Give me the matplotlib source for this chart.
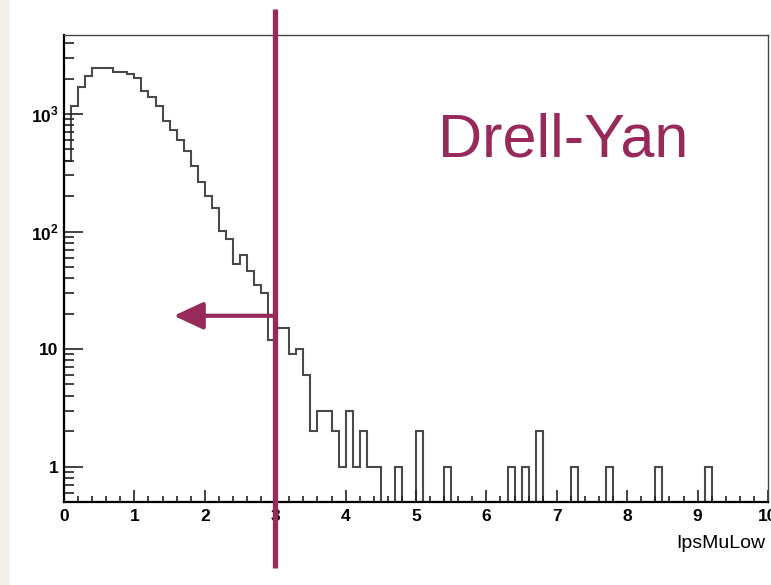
import numpy as np
import matplotlib
matplotlib.use("Agg")
import matplotlib.pyplot as plt
from matplotlib.ticker import FixedLocator, LogLocator, FuncFormatter, NullFormatter
from matplotlib.transforms import blended_transform_factory
from matplotlib.patches import Rectangle

plt.rcParams['font.family'] = ['Liberation Sans', 'DejaVu Sans']
plt.rcParams['mathtext.fontset'] = 'custom'
plt.rcParams['mathtext.rm'] = 'Liberation Sans:bold'
plt.rcParams['mathtext.bf'] = 'Liberation Sans:bold'

# histogram of IpsMuLow, 100 bins from 0 to 10 (counts)
bin_edges = np.linspace(0, 10, 101)
counts = [
    400, 1170, 1690, 2100, 2440, 2440, 2440, 2290, 2290, 2185,
    2010, 1580, 1385, 1170, 877, 731, 601, 488, 362, 266,
    200, 160, 102, 87, 53, 63, 46, 35, 30, 12,
    15, 15, 9, 10, 6, 2, 3, 3, 2, 1,
    3, 1, 2, 1, 1, 0, 0, 1, 0, 0,
    2, 0, 0, 0, 1, 0, 0, 0, 0, 0,
    0, 0, 0, 1, 0, 1, 0, 2, 0, 0,
    0, 0, 1, 0, 0, 0, 0, 1, 0, 0,
    0, 0, 0, 0, 1, 0, 0, 0, 0, 0,
    0, 1, 0, 0, 0, 0, 0, 0, 0, 0,
]

x_ticks = list(range(11))
x_labels = [str(t) for t in x_ticks]
y_labels = {1: '1', 10: '10', 100: r'$10^{2}$', 1000: r'$10^{3}$'}

cut_value = 3.0      # selection cut on IpsMuLow
arrow_y = 19.2
arrow_tip = 1.56
sample_name = "Drell-Yan"
x_title = "IpsMuLow"

maroon = '#972a5a'

fig = plt.figure(figsize=(7.71, 5.85), dpi=100)
fig.patch.set_facecolor('white')
# beige slide margin on the left
fig.patches.append(Rectangle((0, 0), 10 / 771, 1, transform=fig.transFigure,
                             facecolor='#f3f0ea', edgecolor='none', zorder=-1))

ax = fig.add_axes([64 / 771, 83 / 585, 704 / 771, 467 / 585])
ax.stairs(counts, bin_edges, color='#4a4a4a', linewidth=1.5)

ax.set_yscale('log')
ax.set_xlim(0, 10)
ax.set_ylim(0.5, 4700)

# ROOT-like ticks: inside, only on left and bottom
ax.xaxis.set_major_locator(FixedLocator(x_ticks))
ax.set_xticklabels(x_labels)
ax.xaxis.set_minor_locator(FixedLocator(np.arange(0, 10.01, 0.2)))
ax.yaxis.set_major_locator(LogLocator(base=10, numticks=10))
ax.yaxis.set_minor_locator(LogLocator(base=10, subs=np.arange(2, 10), numticks=20))
ax.yaxis.set_major_formatter(FuncFormatter(lambda v, p: y_labels.get(int(round(v)), '')))
ax.yaxis.set_minor_formatter(NullFormatter())

ax.tick_params(axis='both', which='both', direction='in', top=False, right=False,
               width=1.2, color='#222222')
ax.tick_params(axis='x', which='major', length=8.5, pad=5)
ax.tick_params(axis='x', which='minor', length=4.3)
ax.tick_params(axis='y', which='major', length=14, pad=4)
ax.tick_params(axis='y', which='minor', length=7)
for lab in ax.get_xticklabels() + ax.get_yticklabels():
    lab.set_fontsize(12.5)
    lab.set_fontweight('bold')

for side in ['left', 'bottom']:
    ax.spines[side].set_linewidth(1.6)
for side in ['top', 'right']:
    ax.spines[side].set_linewidth(1.0)
    ax.spines[side].set_color('#444444')

# cut line, extending beyond the frame
trans = blended_transform_factory(ax.transData, ax.transAxes)
ax.plot([cut_value, cut_value], [-0.141, 1.056], color=maroon, linewidth=3.8,
        transform=trans, clip_on=False, zorder=5, solid_capstyle='butt')

ax.annotate('', xy=(arrow_tip, arrow_y), xytext=(cut_value, arrow_y),
            arrowprops=dict(arrowstyle='-|>,head_length=0.9,head_width=0.42',
                            color=maroon, lw=3, shrinkA=0, shrinkB=0,
                            mutation_scale=20), zorder=5)

ax.text(0.709, 0.739, sample_name, transform=ax.transAxes, ha='center',
        va='baseline', fontsize=44, color=maroon)

fig.text(765 / 771, 37 / 585, x_title, ha='right', va='baseline', fontsize=14)

fig.savefig('out.png', dpi=100)
